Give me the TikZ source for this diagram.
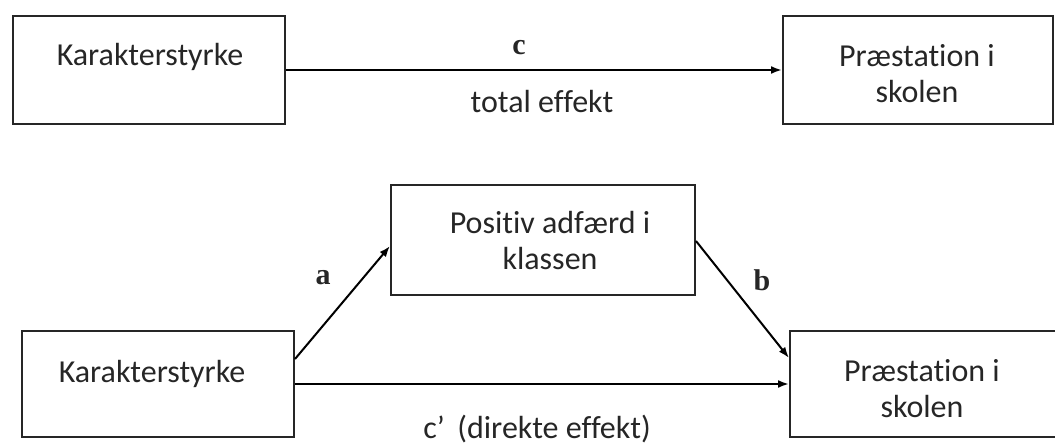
\documentclass[tikz,border=0pt]{standalone}
\usepackage{fontspec}
\setmainfont{Carlito}[RawFeature={-liga}]
\newfontfamily\labserif{Liberation Serif}
\usetikzlibrary{arrows.meta,calc}
\begin{document}
\begin{tikzpicture}[x=1pt,y=-1pt,
  box/.style={draw=black!85,line width=2pt,inner sep=0pt,anchor=north west},
  txt/.style={font=\fontsize{32}{36}\selectfont,align=center,text=black!85,inner sep=0pt},
  lab/.style={font=\labserif\bfseries\fontsize{30}{32}\selectfont,text=black!85,inner sep=0pt},
  arr/.style={line width=2pt,-{Latex[length=11pt,width=8pt]}}]
\useasboundingbox (0,0) rectangle (1055,446);
\clip (0,0) rectangle (1055,446);
% top row
\node[box,minimum width=272pt,minimum height=108pt] (tl) at (12,15) {};
\node[box,minimum width=270pt,minimum height=108pt] (tr) at (782,15) {};
\node[txt] (tlt) at (150,57) {Karakterstyrke};
\node[txt] (trt) at (917,74) {Præstation i\\skolen};
\draw[arr] (tl.east) -- (tr.west);
\node[lab] (c) at (519,48) {c};
\node[txt] (tot) at (542,102) {total effekt};
% bottom row
\node[box,minimum width=304pt,minimum height=110pt] (mid) at (390,184) {};
\node[txt] (midt) at (550,241) {Positiv adfærd i\\klassen};
\node[box,minimum width=272pt,minimum height=106pt] (bl) at (21,330) {};
\node[txt] (blt) at (152,374) {Karakterstyrke};
\node[box,minimum width=280pt,minimum height=106pt] (br) at (789,330) {};
\node[txt] (brt) at (922,389) {Præstation i\\skolen};
\draw[arr] ([yshift=25pt]bl.east) -- ([yshift=-6pt]mid.west);
\draw[arr] ([yshift=-1pt]mid.east) -- ([yshift=26pt]br.west);
\draw[arr] (bl.east) -- (br.west);
\node[lab] (a) at (323,278) {a};
\node[lab] (b) at (762,280) {b};
\node[txt] (cp) at (537,429) {c’\, (direkte effekt)};
\end{tikzpicture}
\end{document}
